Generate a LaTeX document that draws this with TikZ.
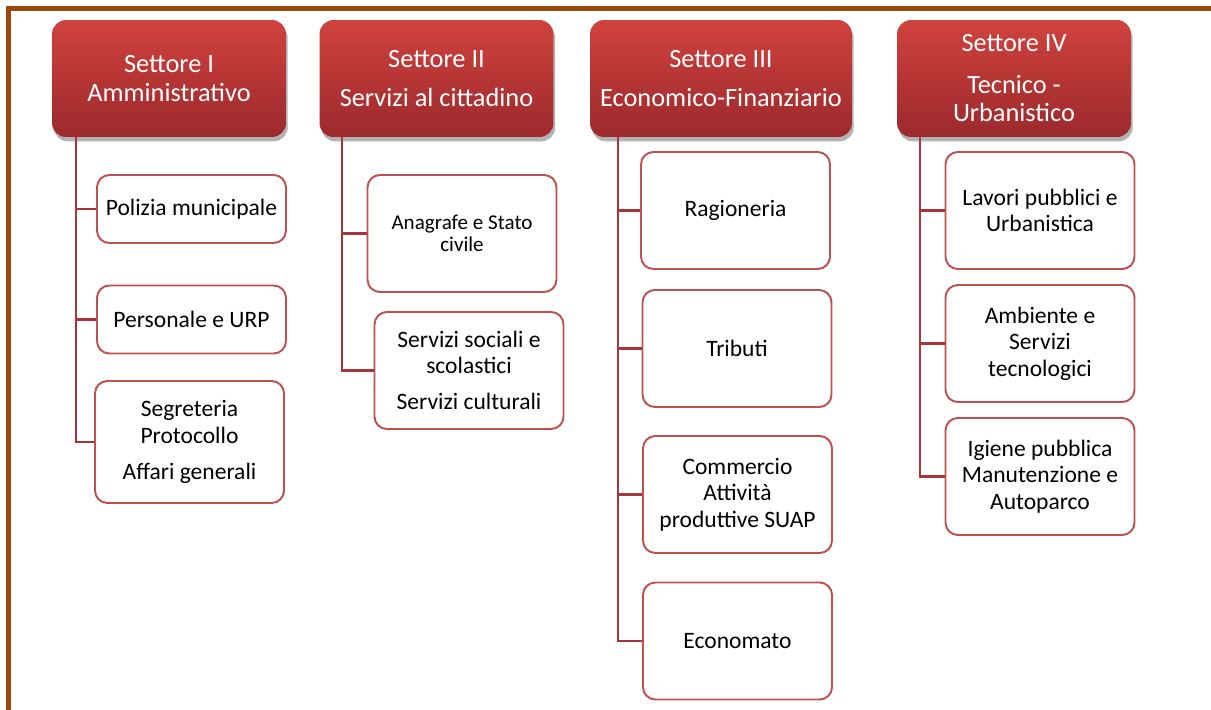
\documentclass[tikz,border=0pt]{standalone}
\usepackage{fontspec}
\setmainfont{Carlito}
\usetikzlibrary{positioning, shadows}

\definecolor{settoresu}{RGB}{208,66,62}
\definecolor{settoregiu}{RGB}{156,41,44}
\definecolor{bordoufficio}{RGB}{192,80,77}
\definecolor{ramocol}{RGB}{165,55,58}
\definecolor{cornice}{RGB}{152,72,7}

\tikzset{
  settore/.style={rectangle, rounded corners=8pt, top color=settoresu, bottom color=settoregiu,
    text=white, minimum width=4.68cm, minimum height=2.34cm, align=center,
    font=\fontsize{15}{17}\selectfont,
    drop shadow={shadow xshift=1pt, shadow yshift=-2.5pt, opacity=0.3, fill=black}},
  ufficio/.style={rectangle, rounded corners=7pt, draw=bordoufficio, line width=1.1pt,
    fill=white, minimum width=3.78cm, minimum height=2.34cm, align=center,
    font=\fontsize{13.4}{15}\selectfont},
  ramo/.style={draw=ramocol, line width=1.3pt}
}

\begin{document}
\begin{tikzpicture}[x=0.02cm, y=-0.02cm]
\useasboundingbox (0,0) rectangle (1211,710);
\draw[cornice, line width=2.3pt] (8.5,712) -- (8.5,8.5) -- (1213,8.5);

% settori
\node[settore] (s1) at (169,78.5) {Settore I\\Amministrativo};
\node[settore] (s2) at (436.5,78.5) {Settore II\\[5.7pt]Servizi al cittadino};
\node[settore, minimum width=5.24cm] (s3) at (721,78.5) {Settore III\\[5.7pt]Economico-Finanziario};
\node[settore] (s4) at (1014,78.5) {Settore IV\\[6.8pt]Tecnico -\\[-1pt]Urbanistico};

% uffici settore I
\node[ufficio, minimum height=1.36cm] (u11) at (191.5,209) {Polizia municipale};
\node[ufficio, minimum height=1.36cm] (u12) at (191.5,319.5) {Personale e URP};
\node[ufficio, minimum height=2.44cm] (u13) at (189.5,442) {Segreteria\\Protocollo\\[5.7pt]Affari generali};

% uffici settore II
\node[ufficio, font=\fontsize{12}{12.5}\selectfont] (u21) at (462,233.5) {Anagrafe e Stato\\civile};
\node[ufficio] (u22) at (469,370.5) {Servizi sociali e\\scolastici\\[5.7pt]Servizi culturali};

% uffici settore III
\node[ufficio] (u31) at (735.5,210.5) {Ragioneria};
\node[ufficio] (u32) at (737,348.5) {Tributi};
\node[ufficio] (u33) at (737.5,494.5) {Commercio\\Attività\\produttive SUAP};
\node[ufficio] (u34) at (737.5,641) {Economato};

% uffici settore IV
\node[ufficio] (u41) at (1040,210.5) {Lavori pubblici e\\Urbanistica};
\node[ufficio] (u42) at (1040,343.5) {Ambiente e\\Servizi\\tecnologici};
\node[ufficio] (u43) at (1040,476.5) {Igiene pubblica\\Manutenzione e\\Autoparco};

% rami
\draw[ramo] (s1.south west) ++(24,0) |- (u11.west);
\draw[ramo] (s1.south west) ++(24,0) |- (u12.west);
\draw[ramo] (s1.south west) ++(24,0) |- (u13.west);
\draw[ramo] (s2.south west) ++(23,0) |- (u21.west);
\draw[ramo] (s2.south west) ++(23,0) |- (u22.west);
\draw[ramo] (s3.south west) ++(28,0) |- (u31.west);
\draw[ramo] (s3.south west) ++(28,0) |- (u32.west);
\draw[ramo] (s3.south west) ++(28,0) |- (u33.west);
\draw[ramo] (s3.south west) ++(28,0) |- (u34.west);
\draw[ramo] (s4.south west) ++(23,0) |- (u41.west);
\draw[ramo] (s4.south west) ++(23,0) |- (u42.west);
\draw[ramo] (s4.south west) ++(23,0) |- (u43.west);
\end{tikzpicture}
\end{document}
